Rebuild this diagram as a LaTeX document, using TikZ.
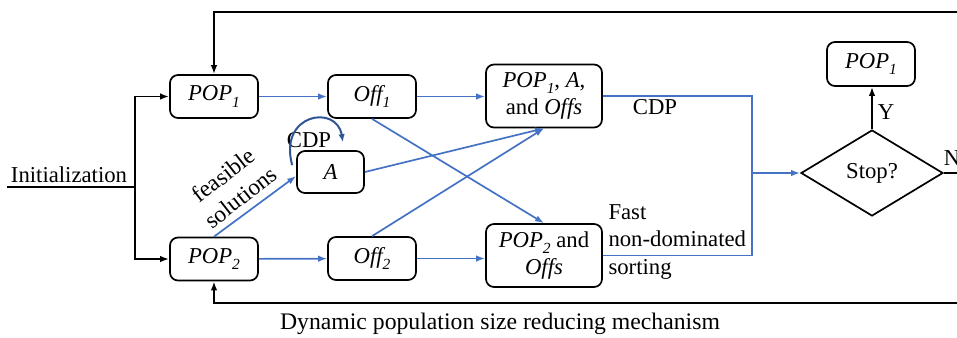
\documentclass[tikz,border=0pt]{standalone}
\usepackage{fontspec}
\setmainfont{Liberation Serif}
\usetikzlibrary{shapes.geometric,arrows.meta,calc}

\definecolor{flowblue}{RGB}{68,114,196}
\definecolor{arcblue}{RGB}{47,85,151}
\newcommand{\subidx}[1]{\raisebox{-0.28em}{\fontsize{15.5}{15.5}\selectfont #1}}
\newcommand{\popn}[1]{\textit{POP\subidx{#1}}}
\newcommand{\offn}[1]{\textit{Off\subidx{#1}}}

\begin{document}
\begin{tikzpicture}[x=1bp,y=-1bp,
	every node/.style={font=\fontsize{22.8}{27.5}\selectfont},
	box/.style={draw,line width=1.7bp,rounded corners=8bp,minimum width=88bp,minimum height=43bp,inner sep=2bp,align=center},
	bigbox/.style={box,minimum width=116bp,minimum height=63bp},
	bl/.style={draw=flowblue,line width=1.7bp,-{Latex[length=9bp,width=6.5bp]}},
	bk/.style={draw=black,line width=1.7bp,-{Latex[length=9bp,width=6.5bp]}},
	bare/.style={line width=1.7bp}]
	\useasboundingbox (0,0) rectangle (957,337);
	
	% boxes
	\node[box] (pop1) at (214,96.5) {\popn{1}};
	\node[box] (off1) at (372,96.5) {\offn{1}};
	\node[bigbox] (mix1) at (544,96) {\popn{1}, \textit{A},\\and \textit{Offs}};
	\node[box,minimum width=67bp,minimum height=42bp] (arch) at (330.5,172) {\textit{A}};
	\node[box] (pop2) at (214,259) {\popn{2}};
	\node[box] (off2) at (372,258.5) {\offn{2}};
	\node[bigbox] (mix2) at (544,255.5) {\popn{2} and\\\textit{Offs}};
	\node[box,minimum height=44bp] (best) at (871,64) {\popn{1}};
	\node[draw,diamond,line width=1.7bp,minimum width=142bp,minimum height=86bp,inner sep=0pt] (stop) at (872,173) {Stop?};
	
	% texts
	\node (init) at (69,175) {Initialization};
	\node[rotate=38,align=center,font=\fontsize{23.5}{28.5}\selectfont] (feas) at (232,186) {feasible\\solutions};
	\node (cdpa) at (309,140) {CDP};
	\node (cdpb) at (655,107) {CDP};
	\node[anchor=west,align=left] (fnds) at (605,242) {Fast\\non-dominated\\sorting};
	\node (yes) at (886,112) {Y};
	\node (no) at (952,158) {N};
	\node[font=\fontsize{23.8}{28}\selectfont] (dyn) at (500,324) {Dynamic population size reducing mechanism};
	
	\coordinate (initend) at (7,187);
	\coordinate (split) at (135,187);
	\coordinate (merge) at (752,173);
	\coordinate (topR) at (960,12);
	\coordinate (botR) at (960,303);
	\coordinate (noR) at (960,173);
	
	% black flow
	\draw[bare] (initend) -- (split);
	\draw[bk] (split) |- (pop1);
	\draw[bk] (split) |- (pop2);
	\draw[bk] (topR) -| (pop1);
	\draw[bk] (botR) -| (pop2);
	\draw[bare] (stop.east) -- (noR);
	\draw[bk] (stop.north) -- (stop.north |- best.south);
	
	% blue flow
	\draw[bl] (pop1) -- (off1);
	\draw[bl] (off1) -- (off1 -| mix1.west);
	\draw[bl] (pop2) -- (off2);
	\draw[bl] (off2) -- (off2 -| mix2.west);
	\draw[bl] (pop2.north) -- ($(arch.west)+(0,4)$);
	\draw[bl] (arch.east) -- (mix1.south);
	\draw[bl] (off2.north) -- (mix1.south);
	\draw[bl] (off1.south) -- (mix2.north);
	\draw[bare,flowblue] (mix1.east) -| (merge);
	\draw[bare,flowblue] (mix2.east) -| (merge);
	\draw[bl] (merge) -- (stop.west);
	
	%CDP loop on A
	\draw[line width=2bp,arcblue,-{Latex[length=8bp,width=6.5bp]}] ($(arch.north west)+(-4,15)$) .. controls +(-14,-52) and +(-6,-38) .. ($(arch.north east)+(-22,-8)$);
\end{tikzpicture}
\end{document}
